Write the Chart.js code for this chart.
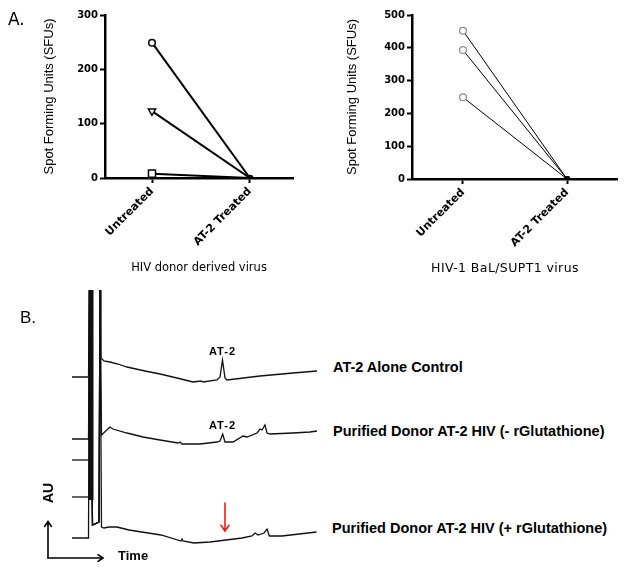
<!DOCTYPE html>
<html>
<head>
<meta charset="utf-8">
<script src="https://cdn.jsdelivr.net/npm/chart.js@4.4.0/dist/chart.umd.min.js"></script>
<style>
  body { margin: 0; background: #fff; width: 628px; height: 577px; position: relative; overflow: hidden;
         font-family: "Liberation Sans", Arial, sans-serif; }
  canvas { position: absolute; }
  .lbl { position: absolute; white-space: nowrap; color: #000; line-height: 1; }
  .b { font-weight: bold; }
  .dv { font-family: "DejaVu Sans", sans-serif; }
</style>
</head>
<body>
<canvas id="donorChart" style="left:0;top:0;width:310px;height:285px" width="310" height="285"></canvas>
<canvas id="balChart" style="left:310px;top:0;width:318px;height:285px" width="318" height="285"></canvas>
<canvas id="hplcChart" style="left:40px;top:285px;width:290px;height:280px" width="290" height="280"></canvas>

<div class="lbl dv" style="left:8px;top:19px;transform:translateY(-50%);font-size:17px">A.</div>
<div class="lbl dv" style="left:199px;top:268px;transform:translate(-50%,-50%);font-size:11.5px">HIV donor derived virus</div>
<div class="lbl dv" style="left:505px;top:268px;transform:translate(-50%,-50%);font-size:12.5px;letter-spacing:0.4px">HIV-1 BaL/SUPT1 virus</div>
<div class="lbl" style="left:20px;top:317px;transform:translateY(-50%);font-size:17px">B.</div>
<div class="lbl b" style="left:222.5px;top:351px;transform:translate(-50%,-50%);font-size:11px;letter-spacing:1px">AT-2</div>
<div class="lbl b" style="left:222.5px;top:424.5px;transform:translate(-50%,-50%);font-size:11px;letter-spacing:1px">AT-2</div>
<div class="lbl b" style="left:333px;top:367px;transform:translateY(-50%);font-size:14.5px">AT-2 Alone Control</div>
<div class="lbl b" style="left:333px;top:431px;transform:translateY(-50%);font-size:14.5px">Purified Donor AT-2 HIV (- rGlutathione)</div>
<div class="lbl b" style="left:332px;top:528px;transform:translateY(-50%);font-size:14.5px">Purified Donor AT-2 HIV (+ rGlutathione)</div>
<div class="lbl b" style="left:47.5px;top:493px;transform:translate(-50%,-50%) rotate(-90deg);font-size:14px">AU</div>
<div class="lbl b" style="left:118px;top:555px;transform:translateY(-50%);font-size:13px">Time</div>

<script>
// ---- Panel A data ----
var categories = ['Untreated', 'AT-2 Treated'];
var donorCircle = [249, 0];
var donorTriangle = [123, 0];
var donorSquare = [8, 0];
var balA = [452, 0];
var balB = [393, 0];
var balC = [249, 0];
var donorTicks = [0, 100, 200, 300];
var balTicks = [0, 100, 200, 300, 400, 500];

// ---- Panel B data: chromatograms, [time, AU] ----
var stubTime = [0, 1.65];
var spikeTime = [1.75, 2.05, 2.7, 2.8];
var spikeAU = [27, 3.5, 3.8, 27];
var controlLevel = 18.3;
var minusLevel = 12.1;
var blankLevels = [10.0, 6.3];
var plusLevel = 2.2;
var controlTrace = [[2.9,20.2],[3.2,19.9],[3.8,19.8],[4.6,19.6],[5.5,19.3],[7.3,18.9],[8.8,18.6],[10.5,18.2],
  [12.1,17.8],[12.9,17.9],[13.1,17.8],[14.5,18.0],[14.8,18.3],[15.05,20.0],[15.3,18.2],[15.5,18.0],
  [18.8,18.4],[22.1,18.7],[24.5,18.9]];
var minusTrace = [[2.95,12.5],[3.8,13.3],[4.1,13.1],[5.5,12.7],[7.1,12.3],[8.8,12.0],[10.6,11.7],[10.8,11.8],
  [11.0,11.6],[12.8,11.6],[14.5,11.8],[14.8,11.9],[15.07,12.6],[15.3,11.8],[16.1,11.8],[17.1,12.4],
  [17.5,12.3],[18.5,12.7],[18.8,13.1],[19.0,13.0],[19.3,13.5],[19.5,12.7],[19.8,12.6],[22.1,12.7],
  [23.8,12.8],[24.5,12.9]];
var plusTrace = [[2.95,3.3],[3.2,3.2],[3.7,3.3],[4.5,3.3],[5.7,3.0],[8.9,2.5],[10.9,1.9],[11.0,2.1],
  [11.1,1.9],[12.2,1.7],[13.8,1.8],[15.4,2.0],[17.0,2.2],[18.0,2.4],[18.3,2.7],[18.6,2.5],[19.2,2.7],
  [19.5,3.1],[19.74,2.4],[21.0,2.4],[24.45,2.8]];
var frontTime = 1.9;
var frontAU = [6, 27];
var redArrow = { time: 15.3, from: 5.7, to: 2.9 };
var axisOrigin = [-2.4, 0.2];
var axisEnds = { time: 3.1, au: 3.85 };

Chart.defaults.animation = false;
Chart.defaults.color = '#000';

function pairs(xs, ys) {
  return xs.map(function (x, i) { return { x: i + 1, y: ys[i] }; });
}

// ticks only at the two groups
function catTicks(scale) {
  scale.ticks = categories.map(function (c, i) { return { value: i + 1 }; });
}

function panelAChart(id, sets, yTicks, yMax, xMin, xMax, pad, titleGap) {
  return new Chart(document.getElementById(id), {
    type: 'line',
    data: { datasets: sets },
    options: {
      responsive: false,
      layout: { padding: { left: 0, top: 15, right: pad.right, bottom: 0 } },
      plugins: { legend: { display: false }, tooltip: { enabled: false } },
      scales: {
        x: {
          type: 'linear', min: xMin, max: xMax,
          afterBuildTicks: catTicks,
          afterFit: function (s) { s.height = pad.xh; },
          ticks: {
            autoSkip: false, minRotation: 45, maxRotation: 45, padding: 2,
            font: { family: 'DejaVu Sans', weight: 'bold', size: 11 },
            callback: function (v) { return categories[v - 1]; }
          },
          grid: { drawOnChartArea: false, tickLength: 5, tickColor: '#000', tickWidth: 2 },
          border: { color: '#000', width: 2.5 }
        },
        y: {
          min: 0, max: yMax,
          afterBuildTicks: function (s) { s.ticks = yTicks.map(function (v) { return { value: v }; }); },
          afterFit: function (s) { s.width = pad.yw; },
          ticks: { padding: 2, font: { family: 'DejaVu Sans', weight: 'bold', size: 10 } },
          grid: { drawOnChartArea: false, tickLength: 5, tickColor: '#000', tickWidth: 2 },
          border: { color: '#000', width: 2.5 },
          title: { display: true, text: 'Spot Forming Units (SFUs)',
                   font: { family: 'Liberation Sans', size: 13 }, padding: { top: titleGap, bottom: 0 } }
        }
      }
    }
  });
}

function donorSet(vals, style, r, rot) {
  return {
    data: pairs(categories, vals), borderColor: '#000', borderWidth: 2,
    pointStyle: style, pointRotation: rot || 0, pointRadius: [r, 2.5],
    pointBorderColor: '#000', pointBorderWidth: 1.5, pointBackgroundColor: ['#fff', '#000']
  };
}

panelAChart('donorChart', [
  donorSet(donorCircle, 'circle', 3.3),
  donorSet(donorTriangle, 'triangle', 4.2, 180),
  donorSet(donorSquare, 'rect', 5)
], donorTicks, 300, 0.52, 2.44, { right: 17, xh: 107, yw: 105 }, 42);

function balSet(vals) {
  return {
    data: pairs(categories, vals), borderColor: '#000', borderWidth: 1,
    pointStyle: 'circle', pointRadius: [3.4, 2.5], pointBorderWidth: 1.2,
    pointBorderColor: ['#8a8a8a', '#000'], pointBackgroundColor: ['#fff', '#000']
  };
}

panelAChart('balChart', [balSet(balA), balSet(balB), balSet(balC)],
  balTicks, 500, 0.51, 2.48, { right: 11, xh: 106, yw: 102 }, 35);

// ---- Panel B ----
function traceData(level, tail) {
  var pts = stubTime.map(function (t) { return { x: t, y: level }; });
  spikeTime.forEach(function (t, i) { pts.push({ x: t, y: spikeAU[i] }); });
  tail.forEach(function (p) { pts.push({ x: p[0], y: p[1] }); });
  return pts;
}
function traceSet(data, w) {
  return { data: data, borderColor: '#111', borderWidth: w || 1.3, pointRadius: 0, tension: 0 };
}

function drawArrow(ctx, x0, y0, x1, y1, color, head) {
  var a = Math.atan2(y1 - y0, x1 - x0);
  ctx.save();
  ctx.strokeStyle = color; ctx.lineWidth = 1.6; ctx.lineCap = 'round';
  ctx.beginPath(); ctx.moveTo(x0, y0); ctx.lineTo(x1, y1);
  ctx.moveTo(x1 - head * Math.cos(a - 0.6), y1 - head * Math.sin(a - 0.6));
  ctx.lineTo(x1, y1);
  ctx.lineTo(x1 - head * Math.cos(a + 0.6), y1 - head * Math.sin(a + 0.6));
  ctx.stroke();
  ctx.restore();
}

var arrowPlugin = {
  id: 'arrows',
  afterDatasetsDraw: function (chart) {
    var x = chart.scales.x, y = chart.scales.y, ctx = chart.ctx;
    drawArrow(ctx, x.getPixelForValue(redArrow.time), y.getPixelForValue(redArrow.from),
      x.getPixelForValue(redArrow.time), y.getPixelForValue(redArrow.to), '#e3241b', 7);
    var ox = x.getPixelForValue(axisOrigin[0]), oy = y.getPixelForValue(axisOrigin[1]);
    drawArrow(ctx, ox, oy, ox, y.getPixelForValue(axisEnds.au), '#000', 6);
    drawArrow(ctx, ox, oy, x.getPixelForValue(axisEnds.time), oy, '#000', 6);
  }
};

var hplcSets = [
  traceSet(traceData(controlLevel, controlTrace)),
  traceSet(traceData(minusLevel, minusTrace)),
  traceSet(traceData(plusLevel, plusTrace))
];
blankLevels.forEach(function (lv) {
  hplcSets.push(traceSet(stubTime.map(function (t) { return { x: t, y: lv }; })));
});
hplcSets.push(traceSet(frontAU.map(function (v) { return { x: frontTime, y: v }; }), 5));

new Chart(document.getElementById('hplcChart'), {
  type: 'line',
  data: { datasets: hplcSets },
  options: {
    responsive: false,
    layout: { padding: 0 },
    plugins: { legend: { display: false }, tooltip: { enabled: false } },
    scales: {
      x: { type: 'linear', min: -3.2, max: 25.8, display: false },
      y: { min: -0.5, max: 27.5, display: false }
    }
  },
  plugins: [arrowPlugin]
});
</script>
</body>
</html>
